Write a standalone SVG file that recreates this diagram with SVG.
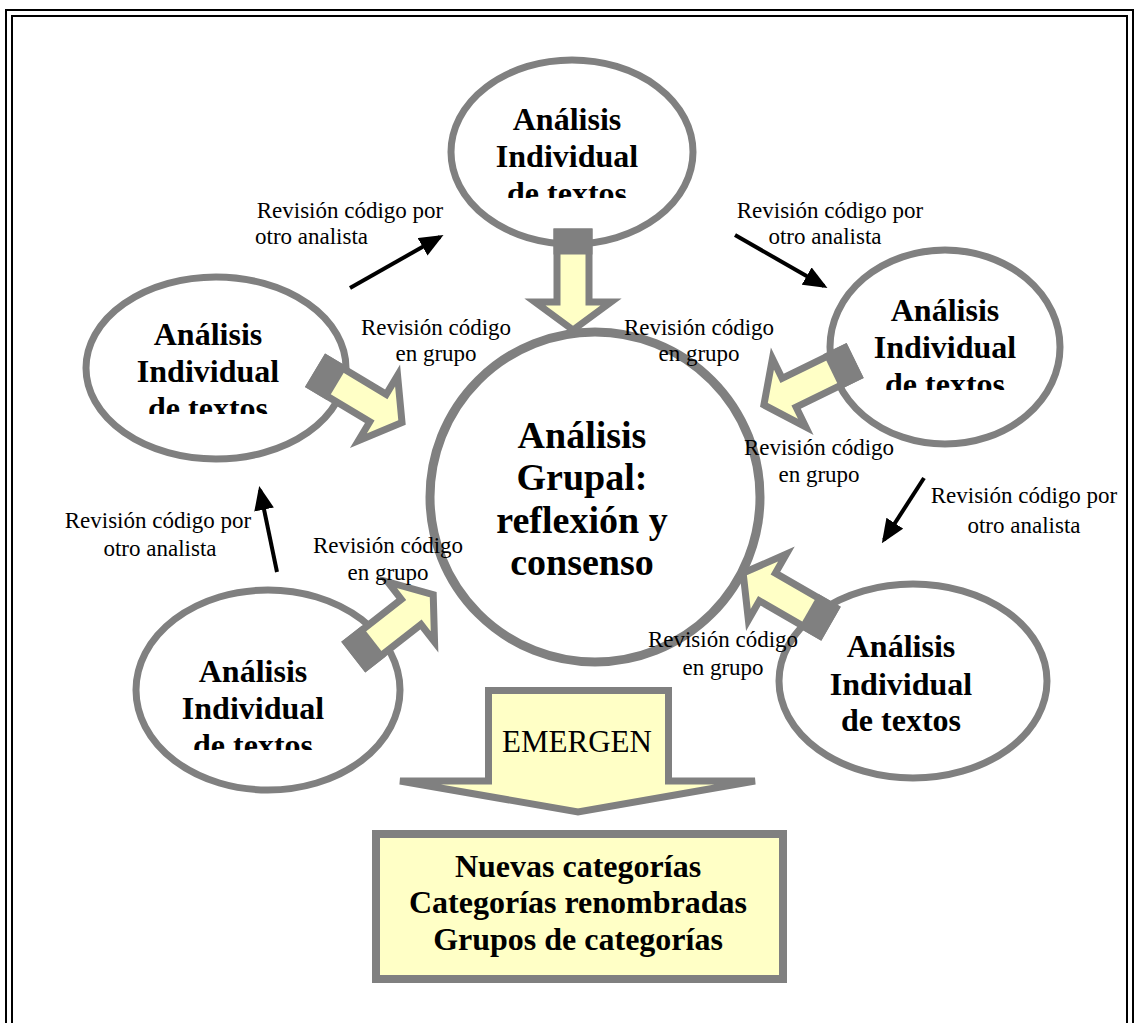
<svg xmlns="http://www.w3.org/2000/svg" width="1135" height="1023" viewBox="0 0 1135 1023">
<style>
.ell{fill:#fff;stroke:#808080;stroke-width:7}
.ctr{fill:#fff;stroke:#808080;stroke-width:9}
.nt{font-family:"Liberation Serif","Times New Roman",serif;font-weight:bold;font-size:32px;text-anchor:middle;fill:#000}
.ct{font-family:"Liberation Serif","Times New Roman",serif;font-weight:bold;font-size:38px;text-anchor:middle;fill:#000}
.lb{font-family:"Liberation Serif","Times New Roman",serif;font-size:23px;text-anchor:middle;fill:#000}
.ln{stroke:#000;stroke-width:4;fill:none}
.blk{fill:#ffffc6;stroke:#808080;stroke-width:7;stroke-linejoin:miter}
.base{fill:#808080}
.frame{fill:none;stroke:#000;stroke-width:2}
</style>
<defs>
<marker id="ah" markerWidth="6" markerHeight="5" refX="5" refY="2.5" orient="auto" markerUnits="strokeWidth">
<path d="M0,0 L6,2.5 L0,5 z" fill="#000"/>
</marker>
<g id="barrow">
<path class="blk" d="M0,-16 L70,-16 L70,-38 L98,0 L70,38 L70,16 L0,16 Z"/>
<rect class="base" x="-3.5" y="-19.5" width="26" height="39"/>
</g>
<clipPath id="c1"><rect x="0" y="0" width="1135" height="198"/></clipPath>
<clipPath id="c2"><rect x="0" y="0" width="1135" height="414"/></clipPath>
<clipPath id="c3"><rect x="0" y="0" width="1135" height="390"/></clipPath>
<clipPath id="c4"><rect x="0" y="0" width="1135" height="750"/></clipPath>
</defs>
<rect width="1135" height="1023" fill="#fff"/>
<g id="frame">
<path class="frame" d="M6,1023 L6,10 L1133,10 L1133,1023"/>
<path class="frame" d="M12,1023 L12,16 L1127,16 L1127,1023"/>
</g>
<g id="node-top">
<ellipse class="ell" cx="572" cy="152" rx="121" ry="92"/>
</g>
<g id="node-left">
<ellipse class="ell" cx="216" cy="368" rx="130" ry="91"/>
</g>
<g id="node-right">
<ellipse class="ell" cx="945" cy="347" rx="115" ry="97"/>
</g>
<g id="node-bl">
<ellipse class="ell" cx="268" cy="690" rx="132" ry="100"/>
</g>
<g id="node-br">
<ellipse class="ell" cx="913" cy="681" rx="134" ry="97"/>
</g>
<g id="node-center">
<circle class="ctr" cx="595" cy="497" r="165"/>
</g>
<g id="connectors">
<use href="#barrow" transform="translate(573,232) rotate(90)"/>
<use href="#barrow" transform="translate(318,372) rotate(31)"/>
<use href="#barrow" transform="translate(852,362) rotate(154)"/>
<use href="#barrow" transform="translate(356,655) rotate(-38)"/>
<use href="#barrow" transform="translate(828,622) rotate(210)"/>
<line class="ln" x1="350" y1="288" x2="440" y2="237" marker-end="url(#ah)"/>
<line class="ln" x1="735" y1="235" x2="824" y2="286" marker-end="url(#ah)"/>
<line class="ln" x1="924" y1="478" x2="884" y2="540" marker-end="url(#ah)"/>
<line class="ln" x1="277" y1="572" x2="260" y2="490" marker-end="url(#ah)"/>
<path d="M488.5,690.5 L668.5,690.5 L668.5,781 L755,781 L578,812 L400,781 L488.5,781 Z" fill="#ffffc6" stroke="#808080" stroke-width="7" stroke-linejoin="miter"/>
</g>
<g id="texts-nodes">
<g clip-path="url(#c1)">
<text class="nt" x="567" y="130">Análisis</text>
<text class="nt" x="567" y="167">Individual</text>
<text class="nt" x="567" y="204">de textos</text>
</g>
<g clip-path="url(#c2)">
<text class="nt" x="208" y="345">Análisis</text>
<text class="nt" x="208" y="382">Individual</text>
<text class="nt" x="208" y="419">de textos</text>
</g>
<g clip-path="url(#c3)">
<text class="nt" x="945" y="321">Análisis</text>
<text class="nt" x="945" y="358">Individual</text>
<text class="nt" x="945" y="395">de textos</text>
</g>
<g clip-path="url(#c4)">
<text class="nt" x="253" y="682">Análisis</text>
<text class="nt" x="253" y="719">Individual</text>
<text class="nt" x="253" y="756">de textos</text>
</g>
<text class="nt" x="901" y="657">Análisis</text>
<text class="nt" x="901" y="695">Individual</text>
<text class="nt" x="901" y="731">de textos</text>
<text class="ct" x="582" y="448">Análisis</text>
<text class="ct" x="582" y="490">Grupal:</text>
<text class="ct" x="582" y="533">reflexión y</text>
<text class="ct" x="582" y="575">consenso</text>
</g>
<g id="labels">
<text class="lb" x="350" y="218">Revisión código por</text>
<text class="lb" x="255" y="244" style="text-anchor:start">otro analista</text>
<text class="lb" x="830" y="218">Revisión código por</text>
<text class="lb" x="825" y="244">otro analista</text>
<text class="lb" x="158" y="528">Revisión código por</text>
<text class="lb" x="160" y="556">otro analista</text>
<text class="lb" x="1024" y="503">Revisión código por</text>
<text class="lb" x="1024" y="533">otro analista</text>
<text class="lb" x="436" y="335">Revisión código</text>
<text class="lb" x="436" y="361">en grupo</text>
<text class="lb" x="699" y="335">Revisión código</text>
<text class="lb" x="699" y="361">en grupo</text>
<text class="lb" x="819" y="455">Revisión código</text>
<text class="lb" x="819" y="482">en grupo</text>
<text class="lb" x="388" y="553">Revisión código</text>
<text class="lb" x="388" y="580">en grupo</text>
<text class="lb" x="723" y="647">Revisión código</text>
<text class="lb" x="723" y="675">en grupo</text>
<text x="577" y="752" style="font-family:'Liberation Serif','Times New Roman',serif;font-size:31px;text-anchor:middle">EMERGEN</text>
</g>
<g id="node-result">
<rect x="376" y="834" width="407" height="145" fill="#ffffc6" stroke="#808080" stroke-width="8"/>
<text class="nt" x="578" y="877">Nuevas categorías</text>
<text class="nt" x="578" y="913">Categorías renombradas</text>
<text class="nt" x="578" y="950">Grupos de categorías</text>
</g>
</svg>
